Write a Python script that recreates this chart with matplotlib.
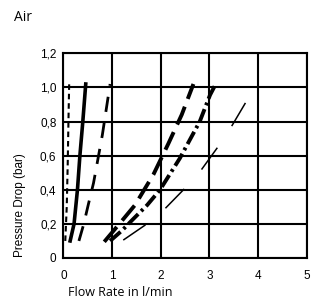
import matplotlib
matplotlib.use("Agg")
import matplotlib.pyplot as plt

plt.rcParams['lines.scale_dashes'] = False

# Data
x_ticks = [0, 1, 2, 3, 4, 5]
x_tick_labels = ["0", "1", "2", "3", "4", "5"]
y_ticks = [0, 0.2, 0.4, 0.6, 0.8, 1.0, 1.2]
y_tick_labels = ["0", "0,2", "0,4", "0,6", "0,8", "1,0", "1,2"]

c1_x = [0.04, 0.07, 0.09, 0.105, 0.12]
c1_y = [0.10, 0.30, 0.55, 0.80, 1.02]

c2_x = [0.14, 0.18, 0.22, 0.29, 0.34, 0.40, 0.46]
c2_y = [0.10, 0.15, 0.20, 0.40, 0.60, 0.80, 1.02]

c3_x = [0.32, 0.42, 0.51, 0.62, 0.71, 0.80, 0.96]
c3_y = [0.10, 0.20, 0.31, 0.44, 0.58, 0.72, 1.02]

c4_x = [0.84, 1.15, 1.47, 1.85, 2.155, 2.43, 2.67]
c4_y = [0.095, 0.20, 0.31, 0.49, 0.67, 0.84, 1.02]

c5_x = [0.96, 1.2, 1.44, 1.72, 1.985, 2.39, 2.80, 3.01, 3.11]
c5_y = [0.100, 0.16, 0.23, 0.31, 0.40, 0.584, 0.80, 0.955, 1.01]

c6_x = [1.23, 1.68, 2.09, 2.50, 2.84, 3.17, 3.47, 3.76]
c6_y = [0.105, 0.193, 0.29, 0.41, 0.52, 0.65, 0.78, 0.92]

fig = plt.figure(figsize=(3.34, 3.02), dpi=100)
ax = fig.add_axes([0.1896, 0.1457, 0.919 - 0.1896, 0.8235 - 0.1457])

ax.set_xlim(0, 5)
ax.set_ylim(0, 1.2)
ax.set_xticks(x_ticks)
ax.set_xticklabels(x_tick_labels)
ax.set_yticks(y_ticks)
ax.set_yticklabels(y_tick_labels)
ax.grid(True, color='black', linewidth=1.5)
ax.set_axisbelow(True)
for s in ax.spines.values():
    s.set_linewidth(1.5)
ax.tick_params(length=0, labelsize=8.5, pad=5)
ax.tick_params(axis='x', pad=9)
for lab in ax.get_xticklabels() + ax.get_yticklabels():
    lab.set_family('Liberation Sans')

ax.plot(c1_x, c1_y, color='black', lw=1.5, dashes=(4.0, 2.8), solid_capstyle='butt')
ax.plot(c2_x, c2_y, color='black', lw=2.6)
ax.plot(c3_x, c3_y, color='black', lw=2.0, dashes=(11, 8))
ax.plot(c4_x, c4_y, color='black', lw=2.8, dashes=(14, 6))
ax.plot(c5_x, c5_y, color='black', lw=2.8, dashes=(10, 3, 2, 3))
ax.plot(c6_x, c6_y, color='black', lw=1.1, dashes=(19.4, 18.7))

fig.text(0.042, 0.942, "Air", fontsize=10, family='Open Sans', va='center', ha='left')
fig.text(0.06, 0.321, "Pressure Drop (bar)", fontsize=8.5, family='Liberation Sans',
         rotation=90, va='center', ha='center')
fig.text(0.204, 0.03, "Flow Rate in l/min", fontsize=9, family='Open Sans', va='center', ha='left')

fig.savefig("out.png", dpi=100)
